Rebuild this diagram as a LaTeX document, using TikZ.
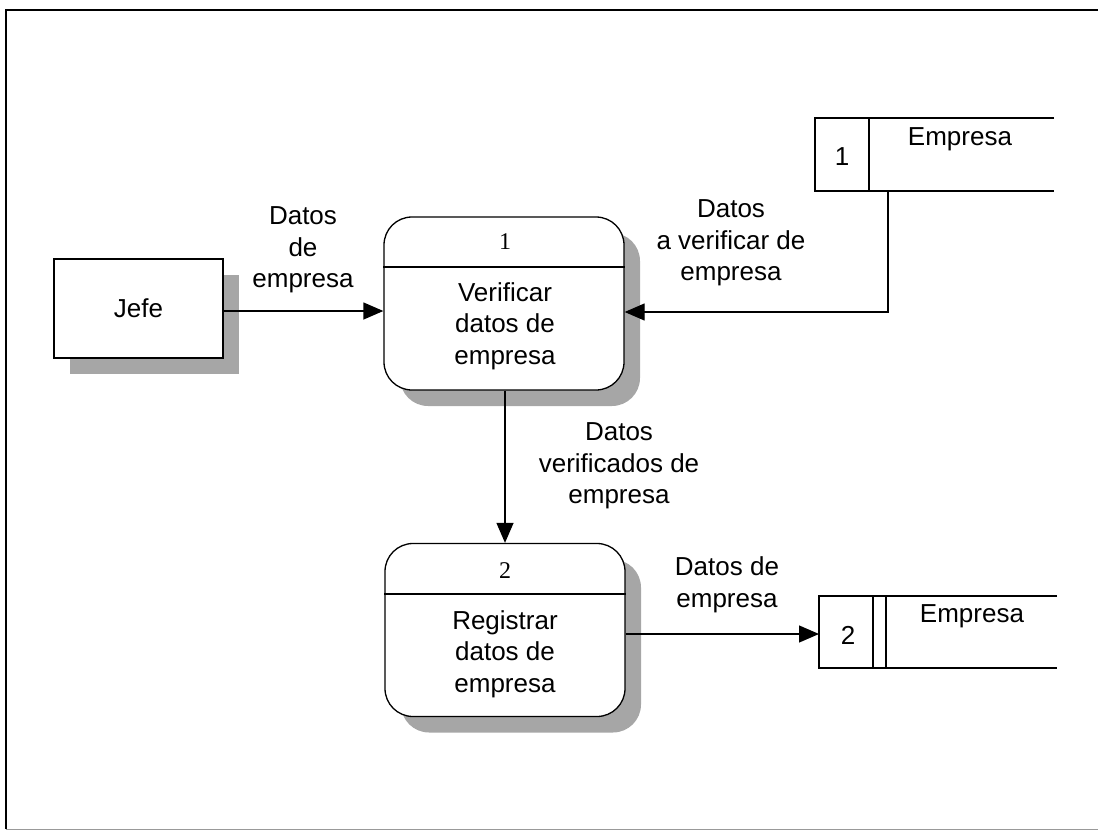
\documentclass[tikz,border=0pt]{standalone}
\usepackage{fontspec}
\setmainfont{Liberation Serif}
\newfontfamily\arl{Liberation Sans}
\usetikzlibrary{arrows.meta,shadows}
\tikzset{
  lbl/.style={font=\arl\fontsize{26}{31.5}\selectfont, align=center, inner sep=0pt},
  num/.style={font=\fontsize{24}{26}\selectfont, inner sep=0pt},
  shd/.style={general shadow={shadow xshift=16pt, shadow yshift=-16pt, fill=black!35}},
  proc/.style={draw, line width=1.3pt, rounded corners=28pt, fill=white, shd, minimum width=240pt, minimum height=173pt, inner sep=0pt},
  ent/.style={draw, line width=1.3pt, fill=white, shd, minimum width=169pt, minimum height=99pt, inner sep=0pt},
  flow/.style={line width=1.3pt, -{Triangle[length=20pt,width=17pt]}},
  stl/.style={line width=1.3pt},
}
\begin{document}
\begin{tikzpicture}[x=1pt,y=-1pt]
\useasboundingbox (0,0) rectangle (1098,832);
% frame
\draw[line width=1.2pt] (6,829) -- (6,10) -- (1100,10);
\draw[line width=0.8pt, black!40] (6,829) -- (1100,829);

% entity
\node[ent] (jefe) at (138.5,308.5) {};
\node[lbl] at (jefe.center) {Jefe};

% processes
\node[proc] (p1) at (504,303.5) {};
\draw[stl] (p1.west |- 0,267) -- (p1.east |- 0,267);
\node[num] at (505,242) {1};
\node[lbl] at (505,326) {Verificar\\datos de\\empresa};

\node[proc] (p2) at (505,630) {};
\draw[stl] (p2.west |- 0,594) -- (p2.east |- 0,594);
\node[num] at (505,571) {2};
\node[lbl] at (505,654) {Registrar\\datos de\\empresa};

% data store 1
\coordinate (s1tl) at (815,118);
\coordinate (s1bl) at (815,191);
\draw[stl] (1054,118) -- (s1tl) -- (s1bl) -- (1054,191);
\draw[stl] (869,118) -- (869,191);
\node[lbl] (s1n) at (842,157) {1};
\node[lbl] (s1) at (960,139) {Empresa};
\coordinate (s1out) at (888,191);

% data store 2
\coordinate (s2tl) at (819,596);
\coordinate (s2bl) at (819,668);
\draw[stl] (1057,596) -- (s2tl) -- (s2bl) -- (1057,668);
\draw[stl] (873,596) -- (873,668);
\draw[stl] (886,596) -- (886,668);
\node[lbl] (s2n) at (848,635) {2};
\node[lbl] (s2) at (972,616) {Empresa};
\coordinate (s2in) at (819,634);

% flows
\draw[flow] (jefe.east |- 0,311) -- (p1.west |- 0,311);
\node[lbl] at (303,250) {Datos\\de\\empresa};

\draw[flow] (s1out) -- (888,312) -- (p1.east |- 0,312);
\node[lbl] at (731,243) {Datos\\a verificar de\\empresa};

\draw[flow] (p1.south -| 505,0) -- (p2.north -| 505,0);
\node[lbl] at (619,466) {Datos\\verificados de\\empresa};

\draw[flow] (p2.east |- 0,634) -- (s2in);
\node[lbl] at (727,585) {Datos de\\empresa};
\end{tikzpicture}
\end{document}
